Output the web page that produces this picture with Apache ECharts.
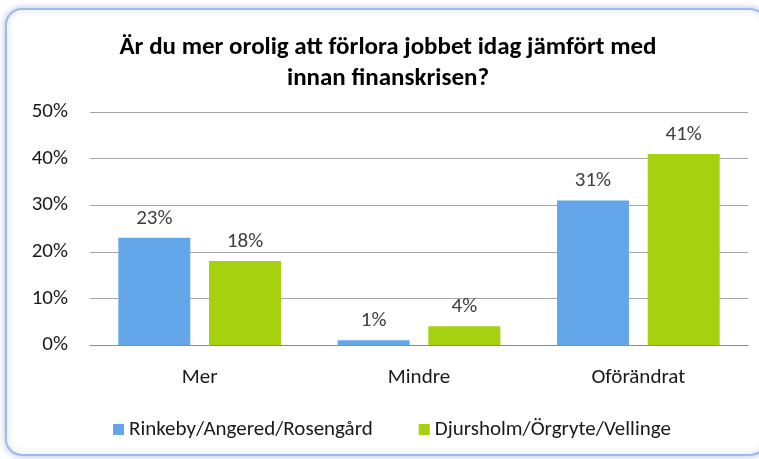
<!DOCTYPE html>
<html><head><meta charset="utf-8">
<script src="https://cdn.jsdelivr.net/npm/echarts@6/dist/echarts.min.js"></script>
<style>html,body{margin:0;padding:0;background:#fff}#c{width:759px;height:459px}</style>
</head><body><div id="c"></div>
<script>
const categories = ['Mer', 'Mindre', 'Oförändrat'];
const seriesNames = ['Rinkeby/Angered/Rosengård', 'Djursholm/Örgryte/Vellinge'];
const rinkeby = [23, 1, 31];
const djursholm = [18, 4, 41];
const yTicks = [0, 10, 20, 30, 40, 50];
const titleText = 'Är du mer orolig att förlora jobbet idag jämfört med\ninnan finanskrisen?';

const FONT = 'Carlito, Lato, sans-serif';
const chart = echarts.init(document.getElementById('c'), null, {renderer: 'canvas'});
chart.setOption({
  animation: false,
  backgroundColor: '#fff',
  graphic: [{
    type: 'rect', left: 5, top: 8, z: -1,
    shape: {width: 760, height: 446, r: 16},
    style: {fill: '#fff', stroke: '#9dbbe8', lineWidth: 2, shadowBlur: 6, shadowColor: 'rgba(120,150,210,0.5)'}
  }],
  title: {
    text: titleText, left: 383, textAlign: 'center', top: 27,
    textStyle: {fontFamily: FONT, fontSize: 25, fontWeight: 'bold', color: '#000', lineHeight: 31}
  },
  legend: {
    bottom: 14, left: 108, itemWidth: 11, itemHeight: 11, itemGap: 46,
    icon: 'rect',
    textStyle: {fontFamily: FONT, fontSize: 21, color: '#1a1a1a'},
    data: seriesNames
  },
  grid: {left: 90, right: 11, top: 112, bottom: 114, containLabel: false},
  xAxis: {
    type: 'category', data: categories,
    axisLine: {lineStyle: {color: '#8c8c8c'}},
    axisTick: {show: false},
    axisLabel: {fontFamily: FONT, fontSize: 21, color: '#1a1a1a', margin: 22}
  },
  yAxis: {
    type: 'value', min: 0, max: 50, interval: 10,
    axisLine: {show: false}, axisTick: {show: false},
    splitLine: {lineStyle: {color: '#a6a6a6'}},
    axisLabel: {fontFamily: FONT, fontSize: 21, color: '#1a1a1a', margin: 22,
      formatter: v => yTicks.includes(v) ? v + '%' : ''}
  },
  series: [
    {name: seriesNames[0], type: 'bar', data: rinkeby, barWidth: 72, barGap: '26%',
      itemStyle: {color: '#63a7ea'},
      label: {show: true, position: 'top', distance: 9, formatter: '{c}%', fontFamily: FONT, fontSize: 21, color: '#404040'}},
    {name: seriesNames[1], type: 'bar', data: djursholm, barWidth: 72,
      itemStyle: {color: '#a5d10e'},
      label: {show: true, position: 'top', distance: 9, formatter: '{c}%', fontFamily: FONT, fontSize: 21, color: '#404040'}}
  ]
});
</script></body></html>
